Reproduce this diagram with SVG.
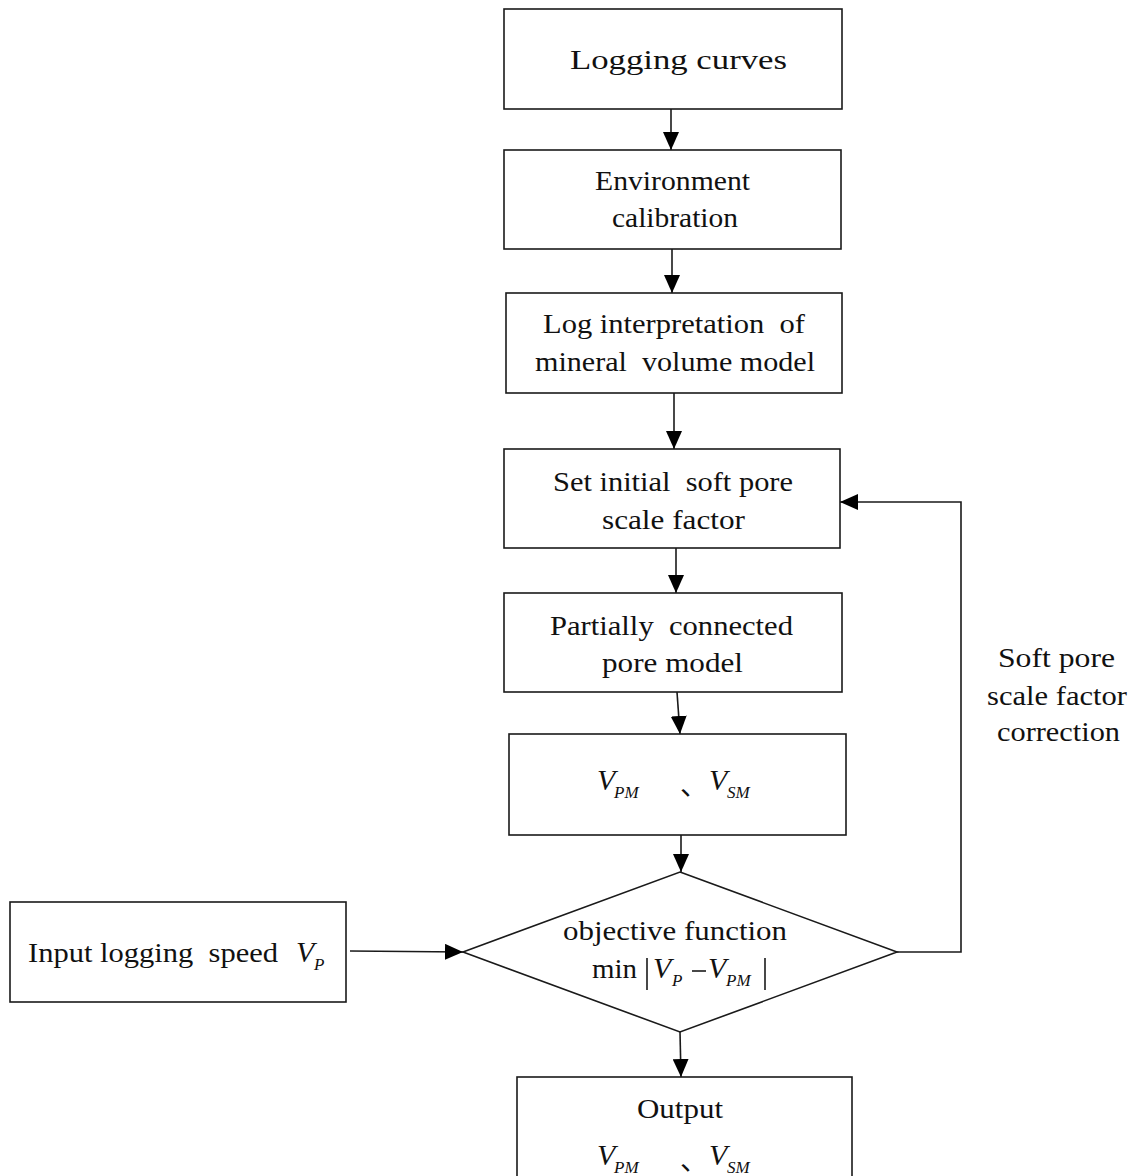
<svg xmlns="http://www.w3.org/2000/svg" width="1135" height="1176" viewBox="0 0 1135 1176">
<style>
.box{fill:#fff;stroke:#1a1a1a;stroke-width:1.6}
.ln{fill:none;stroke:#1a1a1a;stroke-width:1.6}
.t{font-family:"Liberation Serif","Noto Sans CJK SC",serif;font-size:28px;fill:#111}
.v{font-family:"Liberation Serif",serif;font-style:italic;font-size:30px;fill:#111}
.s{font-family:"Liberation Serif",serif;font-style:italic;font-size:17px;fill:#111}
</style>
<defs>
<marker id="ah" viewBox="0 0 18 16" refX="18" refY="8" markerWidth="18" markerHeight="16" markerUnits="userSpaceOnUse" orient="auto">
<path d="M0,0 L18,8 L0,16 z" fill="#000"/>
</marker>
</defs>
<rect width="1135" height="1176" fill="#fff"/>
<g id="connectors">
<line class="ln" x1="671" y1="109" x2="671" y2="150" marker-end="url(#ah)"/>
<line class="ln" x1="672" y1="249" x2="672" y2="293" marker-end="url(#ah)"/>
<line class="ln" x1="674" y1="393" x2="674" y2="449" marker-end="url(#ah)"/>
<line class="ln" x1="676" y1="548" x2="676" y2="593" marker-end="url(#ah)"/>
<line class="ln" x1="677" y1="692" x2="680" y2="734" marker-end="url(#ah)"/>
<line class="ln" x1="681" y1="835" x2="681" y2="872" marker-end="url(#ah)"/>
<line class="ln" x1="350" y1="951" x2="463" y2="952" marker-end="url(#ah)"/>
<polyline class="ln" points="897,952 961,952 961,502 840,502" marker-end="url(#ah)"/>
<line class="ln" x1="680" y1="1032" x2="681" y2="1077" marker-end="url(#ah)"/>
</g>
<g id="n1">
<rect class="box" x="504" y="9" width="338" height="100"/>
<text class="t" x="570" y="69" font-size="31" textLength="217" lengthAdjust="spacingAndGlyphs">Logging curves</text>
</g>
<g id="n2">
<rect class="box" x="504" y="150" width="337" height="99"/>
<text class="t" x="595" y="190" textLength="155" lengthAdjust="spacingAndGlyphs">Environment</text>
<text class="t" x="612" y="227" textLength="126" lengthAdjust="spacingAndGlyphs">calibration</text>
</g>
<g id="n3">
<rect class="box" x="506" y="293" width="336" height="100"/>
<text class="t" x="543" y="333" textLength="262" lengthAdjust="spacingAndGlyphs" xml:space="preserve">Log interpretation  of</text>
<text class="t" x="535" y="371" textLength="280" lengthAdjust="spacingAndGlyphs" xml:space="preserve">mineral  volume model</text>
</g>
<g id="n4">
<rect class="box" x="504" y="449" width="336" height="99"/>
<text class="t" x="553" y="491" textLength="240" lengthAdjust="spacingAndGlyphs" xml:space="preserve">Set initial  soft pore</text>
<text class="t" x="602" y="529" textLength="143" lengthAdjust="spacingAndGlyphs">scale factor</text>
</g>
<g id="n5">
<rect class="box" x="504" y="593" width="338" height="99"/>
<text class="t" x="550" y="635" textLength="243" lengthAdjust="spacingAndGlyphs" xml:space="preserve">Partially  connected</text>
<text class="t" x="602" y="672" textLength="141" lengthAdjust="spacingAndGlyphs">pore model</text>
</g>
<g id="n6">
<rect class="box" x="509" y="734" width="337" height="101"/>
<text class="v" x="597" y="790">V</text>
<text class="s" x="614" y="798">PM</text>
<text class="t" x="680" y="795">、</text>
<text class="v" x="709" y="790">V</text>
<text class="s" x="727" y="798">SM</text>
</g>
<g id="n7">
<rect class="box" x="10" y="902" width="336" height="100"/>
<text class="t" x="28" y="962" textLength="250" lengthAdjust="spacingAndGlyphs" xml:space="preserve">Input logging  speed</text>
<text class="v" x="296" y="962">V</text>
<text class="s" x="314" y="970">P</text>
</g>
<g id="n8">
<polygon class="box" points="680,872 897,952 680,1032 463,952"/>
<text class="t" x="563" y="940" textLength="224" lengthAdjust="spacingAndGlyphs">objective function</text>
<text class="t" x="592" y="978" textLength="45" lengthAdjust="spacingAndGlyphs">min</text>
<line class="ln" x1="647" y1="958" x2="647" y2="990" stroke-width="1.4"/>
<text class="v" x="653" y="978">V</text>
<text class="s" x="672" y="986">P</text>
<line class="ln" x1="692" y1="971" x2="706" y2="971" stroke-width="1.4"/>
<text class="v" x="708" y="978">V</text>
<text class="s" x="726" y="986">PM</text>
<line class="ln" x1="765" y1="958" x2="765" y2="990" stroke-width="1.4"/>
</g>
<g id="n9">
<text class="t" x="998" y="667" textLength="117" lengthAdjust="spacingAndGlyphs">Soft pore</text>
<text class="t" x="987" y="705" textLength="140" lengthAdjust="spacingAndGlyphs">scale factor</text>
<text class="t" x="997" y="741" textLength="123" lengthAdjust="spacingAndGlyphs">correction</text>
</g>
<g id="n10">
<rect class="box" x="517" y="1077" width="335" height="120"/>
<text class="t" x="637" y="1118" textLength="86" lengthAdjust="spacingAndGlyphs">Output</text>
<text class="v" x="597" y="1165">V</text>
<text class="s" x="614" y="1173">PM</text>
<text class="t" x="680" y="1170">、</text>
<text class="v" x="709" y="1165">V</text>
<text class="s" x="727" y="1173">SM</text>
</g>
</svg>
